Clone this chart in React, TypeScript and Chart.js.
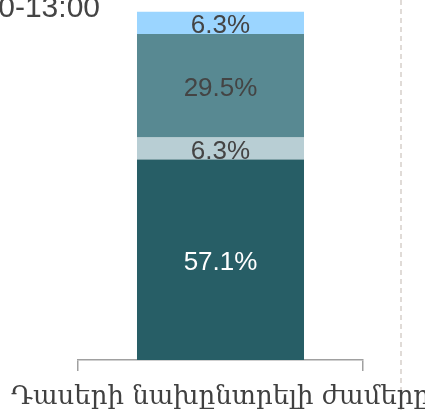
import React, { useEffect, useRef } from "react";
import { Chart, registerables } from "chart.js";

Chart.register(...registerables);

const categories = [""];
const seriesNames = ["Ժամ 1", "Ժամ 2", "Ժամ 3", "Ժամ 4"];
const seriesValues = [[57.1], [6.3], [29.5], [6.3]];
const seriesColors = ["#275e66", "#b8ced4", "#588992", "#9bd5ff"];
const labelColors = ["#ffffff", "#444444", "#444444", "#444444"];
const axisTitle = "Դասերի նախընտրելի ժամերը";
const legendText = "10:00-13:00";

const labelsPlugin = {
  id: "segLabels",
  afterDatasetsDraw(chart: any) {
    const ctx = chart.ctx;
    ctx.save();
    ctx.font = "26px Arial, 'Liberation Sans', sans-serif";
    ctx.textAlign = "center";
    ctx.textBaseline = "middle";
    chart.data.datasets.forEach((ds: any, i: number) => {
      const meta = chart.getDatasetMeta(i);
      meta.data.forEach((el: any, j: number) => {
        const v = ds.data[j];
        const cy = (el.y + el.base) / 2;
        ctx.fillStyle = labelColors[i];
        ctx.fillText(v.toFixed(1) + "%", el.x, cy + 3);
      });
    });
    ctx.restore();
  },
  afterDraw(chart: any) {
    const ctx = chart.ctx;
    const area = chart.chartArea;
    ctx.save();
    ctx.strokeStyle = "#e0dbd7";
    ctx.lineWidth = 2;
    ctx.setLineDash([5, 4]);
    ctx.beginPath();
    ctx.moveTo(401, 0);
    ctx.lineTo(401, 411);
    ctx.stroke();
    ctx.setLineDash([]);
    ctx.font = "30px Arial, 'Liberation Sans', sans-serif";
    ctx.fillStyle = "#444444";
    ctx.textAlign = "right";
    ctx.textBaseline = "alphabetic";
    ctx.fillText(legendText, 100, 17);
    ctx.font = "26px 'DejaVu Serif', serif";
    ctx.fillStyle = "#404040";
    ctx.textAlign = "center";
    ctx.fillText(axisTitle, (area.left + area.right) / 2, 404);
    ctx.restore();
  },
};

export default function App() {
  const ref = useRef<HTMLCanvasElement | null>(null);
  useEffect(() => {
    document.body.style.margin = "0";
    const canvas = ref.current!;
    const chart = new Chart(canvas, {
      type: "bar",
      data: {
        labels: categories,
        datasets: seriesValues.map((vals, i) => ({
          label: seriesNames[i],
          data: vals,
          backgroundColor: seriesColors[i],
          borderWidth: 0,
          barPercentage: 1,
          categoryPercentage: 0.586,
        })),
      },
      options: {
        responsive: false,
        animation: false,
        layout: { padding: { left: 78, right: 62, top: 9, bottom: 47 } },
        plugins: { legend: { display: false }, tooltip: { enabled: false } },
        scales: {
          x: {
            stacked: true,
            grid: {
              display: true,
              drawOnChartArea: false,
              drawTicks: true,
              tickLength: 11,
              color: "#a0a0a0",
              lineWidth: 1.5,
              offset: true,
            },
            border: { display: true, color: "#a0a0a0", width: 1.5 },
            ticks: { display: false },
          },
          y: {
            stacked: true,
            display: false,
            min: 0,
            max: 100,
          },
        },
      },
      plugins: [labelsPlugin],
    });
    return () => chart.destroy();
  }, []);
  return (
    <div style={{ position: "absolute", left: 0, top: 0, width: 425, height: 418 }}>
      <canvas ref={ref} width={425} height={418} />
    </div>
  );
}
